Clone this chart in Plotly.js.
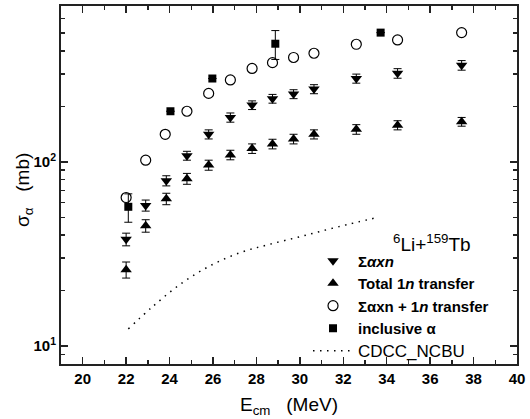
<!DOCTYPE html>
<html>
<head>
<meta charset="utf-8">
<script src="https://cdn.plot.ly/plotly-3.0.1.min.js"></script>
<style>html,body{margin:0;padding:0;background:#fff;}#chart{width:530px;height:419px;}</style>
</head>
<body>
<div id="chart"></div>
<script>
// Σαxn (down triangles)
const xnX = [22.0, 22.9, 23.85, 24.8, 25.8, 26.8, 27.8, 28.74, 29.71, 30.65, 32.6, 34.5, 37.45];
const xnY = [38, 58, 79, 108, 141, 174, 203, 220, 233, 248, 283, 302, 334];
const xnErr = [3, 4, 5, 6, 8, 10, 11, 12, 13, 14, 16, 18, 20];
// Total 1n transfer (up triangles)
const trX = [22.0, 22.9, 23.85, 24.8, 25.8, 26.8, 27.8, 28.74, 29.71, 30.65, 32.6, 34.5, 37.45];
const trY = [26, 45, 63, 81, 96, 109, 118, 125, 133, 141, 150, 158, 165];
const trErr = [2.6, 3.5, 4.5, 5.5, 6, 6.5, 7, 7.5, 8, 8, 9, 9, 9];
// Σαxn + 1n transfer (open circles)
const sumX = [22.0, 22.9, 23.8, 24.8, 25.8, 26.8, 27.8, 28.74, 29.71, 30.65, 32.6, 34.5, 37.45];
const sumY = [64, 102, 141, 188, 235, 278, 321, 345, 368, 388, 434, 458, 502];
// inclusive α (squares)
const incX = [22.1, 24.04, 25.97, 28.87, 33.72];
const incY = [57, 188, 283, 437, 502];
const incErr = [10, 0, 0, 78, 0];
// CDCC_NCBU (dotted curve)
const cdccX = [22.1, 23.2, 24.5, 25.9, 27.3, 28.5, 30.1, 31.8, 33.6];
const cdccY = [12.4, 16.3, 21.7, 27.4, 32.3, 35.4, 39.5, 44.5, 50];
// tick labels
const yTickVals = [10, 100];
const yTickText = ['10<sup>1</sup>', '10<sup>2</sup>'];
const yMinorVals = [8, 9, 20, 30, 40, 50, 60, 70, 80, 90, 200, 300, 400, 500, 600, 700];

const FONT = 'Liberation Sans, Arial, sans-serif';
const errStyle = {type: 'data', visible: true, color: '#000', thickness: 1, width: 4};

const traces = [
  {x: xnX, y: xnY, mode: 'markers', type: 'scatter', name: '<b>Σ<i>αxn</i></b>',
   marker: {symbol: 'triangle-down', size: 10, color: '#000'},
   error_y: Object.assign({array: xnErr}, errStyle)},
  {x: trX, y: trY, mode: 'markers', type: 'scatter', name: '<b>Total 1<i>n</i> transfer</b>',
   marker: {symbol: 'triangle-up', size: 10, color: '#000'},
   error_y: Object.assign({array: trErr}, errStyle)},
  {x: sumX, y: sumY, mode: 'markers', type: 'scatter', name: '<b>Σαxn + 1<i>n</i> transfer</b>',
   marker: {symbol: 'circle-open', size: 10, color: '#000', line: {width: 1.2, color: '#000'}}},
  {x: incX, y: incY, mode: 'markers', type: 'scatter', name: '<b>inclusive α</b>',
   marker: {symbol: 'square', size: 8, color: '#000'},
   error_y: Object.assign({array: incErr}, errStyle)},
  {x: cdccX, y: cdccY, mode: 'lines', type: 'scatter', name: '<span style="font-size:17px">CDCC_NCBU</span>',
   line: {shape: 'spline', dash: '1.5px,5.5px', width: 1.5, color: '#000'}}
];

const layout = {
  width: 530, height: 419,
  margin: {l: 61, r: 13, t: 6, b: 55},
  paper_bgcolor: '#fff', plot_bgcolor: '#fff',
  font: {family: FONT, color: '#000'},
  showlegend: true,
  legend: {x: 0.5417, y: 0.334, xanchor: 'left', yanchor: 'top', bgcolor: 'rgba(0,0,0,0)',
           font: {family: FONT, size: 15, color: '#000'}, itemwidth: 40, tracegroupgap: 0},
  xaxis: {
    range: [19, 40], tick0: 20, dtick: 2, ticks: 'inside', ticklen: 7, tickwidth: 1.5, tickcolor: '#222',
    showline: true, linewidth: 2, linecolor: '#222', mirror: 'ticks', showgrid: false, zeroline: false,
    tickfont: {family: FONT, size: 15, weight: 'bold', color: '#000'},
    minor: {dtick: 1, tick0: 19, ticks: 'inside', ticklen: 4, tickwidth: 1.5, tickcolor: '#222', showgrid: false},
    title: {text: 'E<sub>cm</sub>   (MeV)', font: {family: FONT, size: 19, color: '#000'}, standoff: 12}
  },
  yaxis: {
    type: 'log', range: [Math.log10(8), Math.log10(700)],
    tickmode: 'array', tickvals: yTickVals, ticktext: yTickText,
    ticks: 'inside', ticklen: 7, tickwidth: 1.5, tickcolor: '#222',
    showline: true, linewidth: 2, linecolor: '#222', mirror: 'ticks', showgrid: false, zeroline: false,
    tickfont: {family: FONT, size: 15, weight: 'bold', color: '#000'},
    minor: {tickmode: 'array', tickvals: yMinorVals, ticks: 'inside', ticklen: 4, tickwidth: 1.5, tickcolor: '#222', showgrid: false}
  },
  annotations: [
    {text: '<sup>6</sup>Li+<sup>159</sup>Tb', xref: 'paper', yref: 'paper', x: 0.8125, y: 0.339,
     xanchor: 'center', yanchor: 'middle', showarrow: false, font: {family: FONT, size: 19, color: '#000'}},
    {text: 'σ<sub>α</sub>   (mb)', xref: 'paper', yref: 'paper', x: -0.0811, y: 0.486, textangle: -90,
     xanchor: 'center', yanchor: 'middle', showarrow: false, font: {family: FONT, size: 19, color: '#000'}}
  ]
};

Plotly.newPlot('chart', traces, layout, {displayModeBar: false, staticPlot: true});
</script>
</body>
</html>
